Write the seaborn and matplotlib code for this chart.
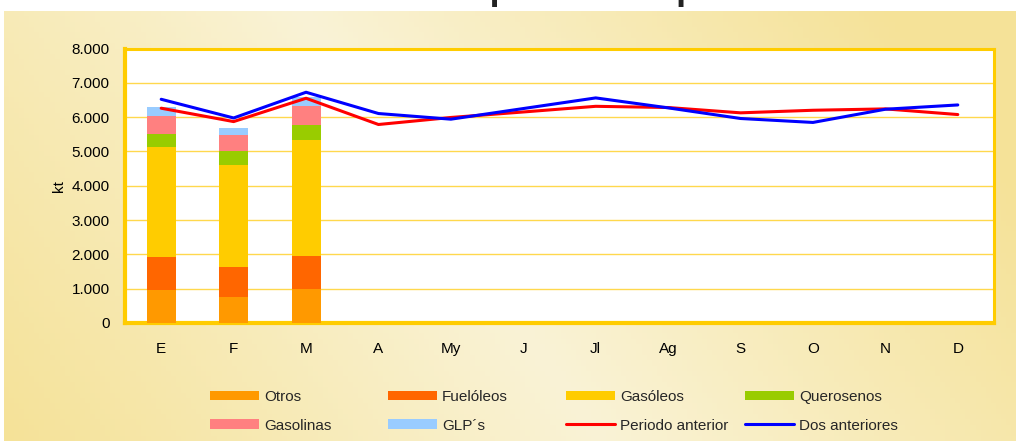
import numpy as np
import pandas as pd
import matplotlib
matplotlib.use("Agg")
import matplotlib.pyplot as plt
from matplotlib.ticker import FuncFormatter, FixedLocator
from matplotlib.patches import Patch
from matplotlib.lines import Line2D
import seaborn as sns

# --- data ---
months = ["E", "F", "M", "A", "My", "J", "Jl", "Ag", "S", "O", "N", "D"]
bar_months = ["E", "F", "M"]
otros = [960, 760, 990]
fueloleos = [960, 875, 960]
gasoleos = [3210, 2975, 3385]
querosenos = [390, 390, 440]
gasolinas = [525, 465, 550]
glps = [255, 225, 260]
periodo_anterior = [6260, 5870, 6550, 5785, 5990, 6150, 6315, 6280, 6125, 6200, 6240, 6075]
dos_anteriores = [6520, 5975, 6725, 6105, 5940, 6250, 6560, 6270, 5960, 5845, 6230, 6355]

series_names = ["Otros", "Fuelóleos", "Gasóleos", "Querosenos", "Gasolinas", "GLP´s"]
series_vals = [otros, fueloleos, gasoleos, querosenos, gasolinas, glps]
series_cols = ["#FF9900", "#FF6600", "#FFCC00", "#99CC00", "#FF8080", "#99CCFF"]

sns.set_theme(style="white")
plt.rcParams["font.family"] = ["Liberation Sans", "DejaVu Sans"]

fig = plt.figure(figsize=(10.16, 4.41), dpi=100)
fig.patch.set_facecolor("white")

# gradient panel behind everything
bg = fig.add_axes([4 / 1016, 0, 1 - 4 / 1016, (441 - 11) / 441], zorder=-10)
gx = np.linspace(0, 1, 200)
gy = np.linspace(0, 1, 80)
X, Y = np.meshgrid(gx, gy)
t = np.clip(np.abs((X * 0.85 + (1 - Y) * 0.25) - 0.5) * 2.0, 0, 1)
light = np.array([250, 243, 214]) / 255
dark = np.array([245, 226, 152]) / 255
img = light[None, None, :] * (1 - t[..., None]) + dark[None, None, :] * t[..., None]
bg.imshow(img, aspect="auto", extent=[0, 1, 0, 1], origin="upper")
bg.set_axis_off()

ax = fig.add_axes([125 / 1016, (441 - 323) / 441, (994 - 125) / 1016, (323 - 48.5) / 441])
ax.set_facecolor("white")

# stacked bars: draw cumulative totals from the top down
df = pd.DataFrame({"mes": bar_months})
cum = np.zeros(len(bar_months))
cums = []
for v in series_vals:
    cum = cum + np.array(v)
    cums.append(cum.copy())
for name, c, col in reversed(list(zip(series_names, cums, series_cols))):
    sns.barplot(x=df["mes"], y=c, order=months, color=col, width=0.4,
                saturation=1, linewidth=0, ax=ax, zorder=3)

xpos = np.arange(len(months))
sns.lineplot(x=xpos, y=periodo_anterior, color="#FF0000", linewidth=2.2, ax=ax, zorder=5)
sns.lineplot(x=xpos, y=dos_anteriores, color="#0000FF", linewidth=2.2, ax=ax, zorder=6)

ax.set_xlim(-0.5, 11.5)
ax.set_ylim(0, 8000)
ax.set_yticks(np.arange(0, 8001, 1000))
ax.yaxis.set_major_formatter(FuncFormatter(lambda v, p: f"{int(v):,}".replace(",", ".")))
ax.set_xticks(xpos)
ax.set_xticklabels(months)
ax.xaxis.set_minor_locator(FixedLocator(np.arange(-0.5, 12, 1)))
ax.tick_params(axis="x", which="major", length=0, pad=14, labelsize=11, colors="black")
ax.tick_params(axis="x", which="minor", length=5, width=1.2, color="#FFCC00", direction="out")
ax.tick_params(axis="y", length=7, width=1.2, color="#FFCC00", direction="out", pad=4,
               labelsize=11, labelcolor="black")
ax.grid(axis="y", color="#FFD84D", linewidth=1, zorder=0)
ax.set_axisbelow(True)
ax.set_xlabel("")
ax.set_ylabel("kt", fontsize=11, color="black", labelpad=4)
for s in ax.spines.values():
    s.set_color("#FFCC00")
    s.set_linewidth(2.2)
    s.set_visible(True)
ax.spines["left"].set_linewidth(3)
ax.spines["bottom"].set_linewidth(3)

# title, mostly cut off at the top edge as in the source image
fig.text(261 / 1016, 1.003, "Consumo de productos petrolíferos", fontsize=26,
         fontweight="bold", ha="left", va="baseline", color="#222222")

# legend, four fixed columns
handles = [Patch(facecolor=c, edgecolor="none") for c in series_cols]
handles += [Line2D([], [], color="#FF0000", linewidth=2.2), Line2D([], [], color="#0000FF", linewidth=2.2)]
labels = series_names + ["Periodo anterior", "Dos anteriores"]
cols = [[0, 4], [1, 5], [2, 6], [3, 7]]
col_x = [210, 388, 566, 745]
for idx, x0 in zip(cols, col_x):
    fig.legend([handles[i] for i in idx], [labels[i] for i in idx],
               loc="upper left", bbox_to_anchor=(x0 / 1016, 1 - 390 / 441),
               frameon=False, fontsize=11, handlelength=3.2, handleheight=0.6,
               handletextpad=0.35, labelspacing=0.95, borderpad=0, borderaxespad=0)

fig.savefig("out.png", dpi=100)
